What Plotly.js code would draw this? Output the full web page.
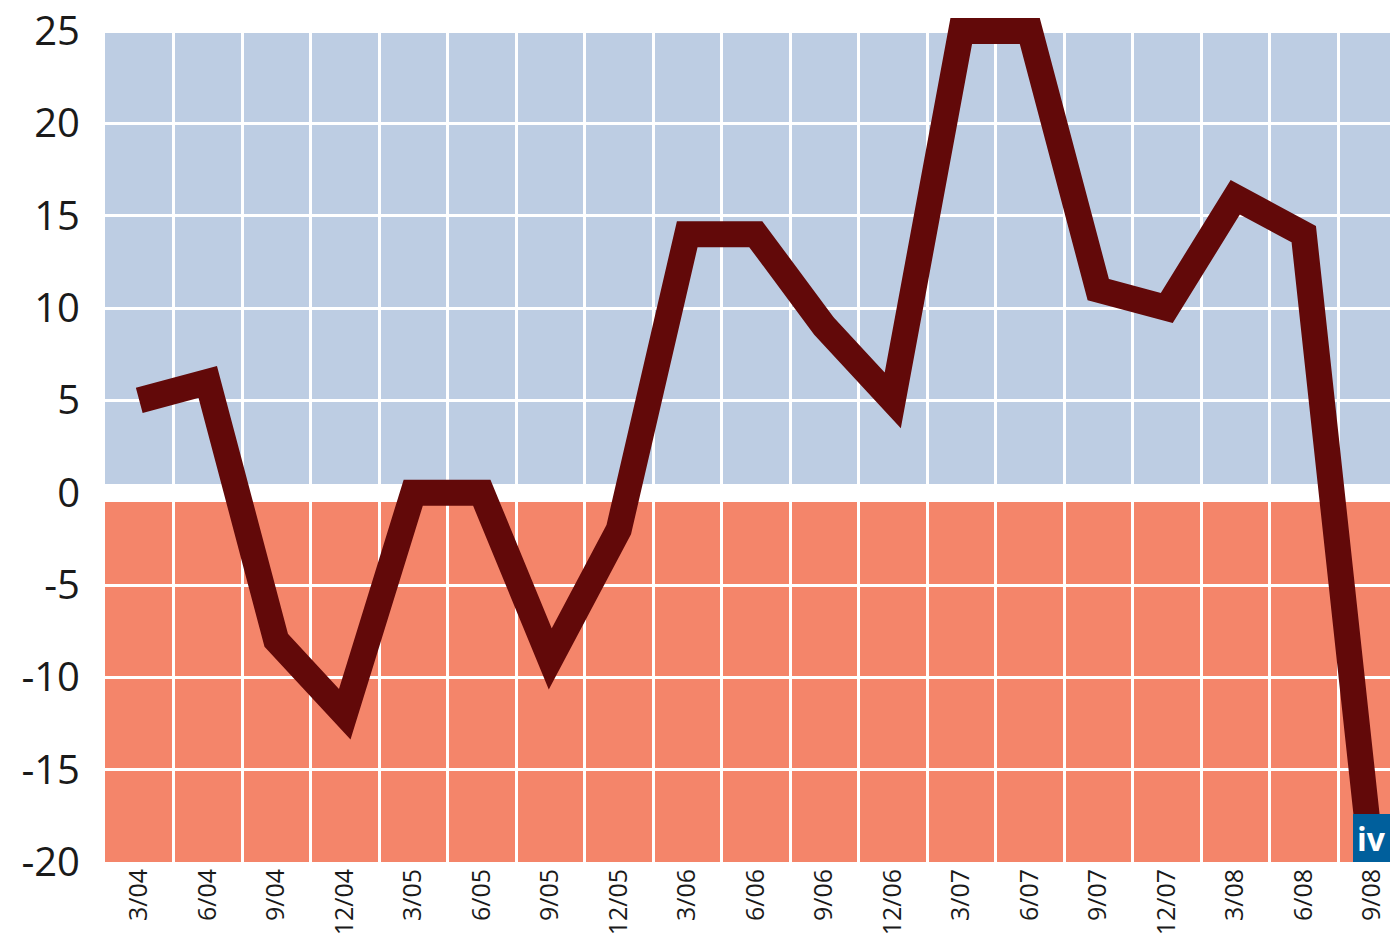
<!DOCTYPE html>
<html>
<head>
<meta charset="utf-8">
<script src="https://cdn.plot.ly/plotly-3.0.1.min.js"></script>
<style>
html,body{margin:0;padding:0;background:#fff;}
#chart{width:1390px;height:936px;}
#chart .scatterlayer path.js-line{stroke-miterlimit:20;stroke-linejoin:miter;}
</style>
</head>
<body>
<div id="chart"></div>
<script>
var quarters = ["3/04","6/04","9/04","12/04","3/05","6/05","9/05","12/05","3/06","6/06","9/06","12/06","3/07","6/07","9/07","12/07","3/08","6/08","9/08"];
var values = [5, 6, -8, -12, 0, 0, -9, -2, 14, 14, 9, 5, 25, 25, 11, 10, 16, 14, -20.3];
var yTicks = [-20, -15, -10, -5, 0, 5, 10, 15, 20, 25];
var yTickLabels = ["-20", "-15", "-10", "-5", "0", "5", "10", "15", "20", "25"];
var positiveZone = [0, 25];
var negativeZone = [-20, 0];

var trace = {
  x: quarters,
  y: values,
  type: "scatter",
  mode: "lines",
  line: {color: "#620909", width: 26},
  hoverinfo: "x+y"
};

var layout = {
  width: 1390,
  height: 936,
  margin: {l: 105, r: 0, t: 10, b: 74},
  paper_bgcolor: "#ffffff",
  plot_bgcolor: "#ffffff",
  showlegend: false,
  font: {family: "Open Sans, Lato, sans-serif", color: "#1a1a1a"},
  xaxis: {
    type: "category",
    range: [-0.5, 18.259],
    tickson: "boundaries",
    showgrid: true,
    gridcolor: "#ffffff",
    gridwidth: 3,
    zeroline: false,
    showline: false,
    ticks: "",
    tickangle: -90,
    tickfont: {size: 25, color: "#1a1a1a"},
    ticklabelstandoff: 1,
    fixedrange: true
  },
  yaxis: {
    range: [-20, 26.137],
    tickvals: yTicks,
    ticktext: yTickLabels,
    showgrid: true,
    gridcolor: "#ffffff",
    gridwidth: 3,
    zeroline: true,
    zerolinecolor: "#ffffff",
    zerolinewidth: 18,
    showline: false,
    ticks: "",
    tickfont: {size: 40, color: "#1a1a1a"},
    ticklabelstandoff: 24,
    fixedrange: true
  },
  shapes: [
    {type: "rect", layer: "below", xref: "paper", yref: "y", x0: 0, x1: 1, y0: positiveZone[0], y1: positiveZone[1], fillcolor: "#bdcde3", line: {width: 0}},
    {type: "rect", layer: "below", xref: "paper", yref: "y", x0: 0, x1: 1, y0: negativeZone[0], y1: negativeZone[1], fillcolor: "#f4856a", line: {width: 0}}
  ],
  annotations: [
    {xref: "paper", yref: "paper", x: 1, y: 0, xanchor: "right", yanchor: "bottom",
     text: "<b>iv</b>", showarrow: false, bgcolor: "#005f9c", borderpad: 4, borderwidth: 0,
     width: 29, height: 40, align: "left", valign: "middle",
     font: {family: "Open Sans, sans-serif", size: 32, color: "#ffffff"}}
  ]
};

Plotly.newPlot("chart", [trace], layout, {displayModeBar: false, staticPlot: true});
</script>
</body>
</html>
